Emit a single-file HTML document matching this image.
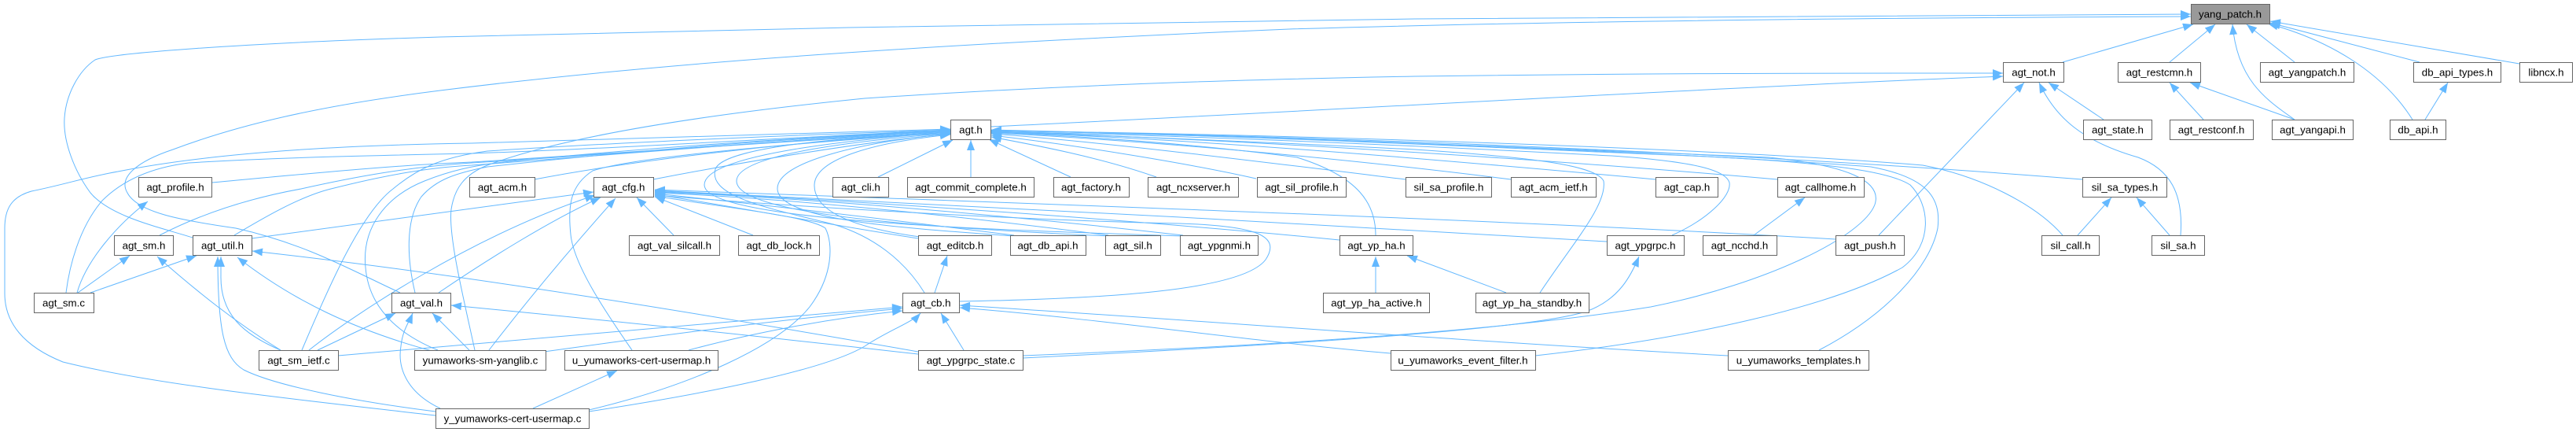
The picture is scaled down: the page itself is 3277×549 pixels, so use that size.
<!DOCTYPE html>
<html><head><meta charset="utf-8"><style>
html,body{margin:0;padding:0;background:#fff;}
svg{display:block;}
text{font-family:"Liberation Sans",Arial,sans-serif;font-size:13.33px;fill:#000;}
</style></head><body>
<svg width="3277" height="549" viewBox="0 0 3277 549" xmlns="http://www.w3.org/2000/svg">
<defs>
<marker id="a" markerUnits="userSpaceOnUse" markerWidth="14" markerHeight="11" refX="13" refY="5" orient="auto">
<path d="M0,0 L13,5 L0,10 z" fill="#63b8ff"/>
</marker>
</defs>
<rect width="3277" height="549" fill="#fff"/>
<g fill="none" stroke="#63b8ff" stroke-width="1" marker-end="url(#a)">
<!-- into yang_patch.h -->
<path d="M2624,79 L2790,31"/>
<path d="M2760,79 L2818,31"/>
<path d="M2919,152 C2880,125 2846,100 2840,31"/>
<path d="M2919,79 L2858,31"/>
<path d="M3069,152 C3030,90 2960,50 2885,30"/>
<path d="M3078,79 L2888,29"/>
<path d="M3205,81 L2888,27"/>
<path d="M245,302 C200,288 140,275 115,245 C95,218 80,180 82,150 C84,120 100,90 121,76 C140,68 300,55 560,47 C800,41 1000,37 1080,35 C1400,30 1640,26 1800,24 C2100,21 2400,19 2787,18"/>
<path d="M509,372 C450,345 390,310 300,290 C230,280 175,270 162,245 C150,225 175,205 220,190 C300,160 400,135 560,115 C800,85 1100,60 1640,37 C1900,29 2300,23 2787,21"/>
<!-- row1 -->
<path d="M2803,152 L2760,105"/>
<path d="M2919,152 L2786,105"/>
<path d="M3085,152 L3114,105"/>
<path d="M2676,152 L2606,105"/>
<path d="M2390,299 L2575,105"/>
<path d="M2774,299 C2778,245 2760,215 2720,200 C2650,180 2615,150 2594,105"/>
<path d="M1260,161 C1700,140 2200,110 2548,97"/>
<path d="M604,445 C590,380 570,300 574,266 C578,240 590,222 620,210 C700,180 850,150 1100,125 C1400,105 1640,100 1800,97 C2100,93 2300,93 2548,93"/>
<!-- into agt.h from bottom -->
<path d="M1117,225 L1212,178"/>
<path d="M1235,225 L1235,178"/>
<path d="M1362,225 L1258,177"/>
<!-- into agt.h from left -->
<path d="M680,228 C800,205 1000,180 1209,168"/>
<path d="M831,228 C950,205 1100,180 1209,170"/>
<path d="M270,232 C400,220 500,210 600,206 C800,195 1000,180 1209,167"/>
<path d="M203,299 C240,280 300,255 383,240 C450,225 520,212 600,207 C800,195 1000,178 1209,166"/>
<path d="M298,299 C330,280 380,250 421,240 C480,225 540,213 600,210 C800,195 1000,178 1209,166"/>
<path d="M84,372 C88,340 100,290 130,255 C160,225 200,212 240,207 C350,200 500,197 600,195 C800,188 1000,175 1209,165"/>
<path d="M384,445 C420,360 460,270 500,240 C530,215 560,200 620,192 C800,180 1000,172 1209,165"/>
<path d="M557,445 C520,430 470,400 465,340 C460,290 490,250 540,230 C570,218 600,210 650,205 C800,190 1000,175 1209,166"/>
<path d="M554,528 C400,510 200,490 80,460 C30,440 6,410 6,373 L6,290 C6,265 15,250 40,243 C80,235 110,225 150,218 C250,198 400,185 600,182 C800,178 1000,170 1209,164"/>
<path d="M528,372 C518,330 515,280 536,250 C555,228 580,220 620,212 C800,192 1000,175 1209,167"/>
<path d="M804,445 C780,410 730,340 726,298 C722,260 726,235 754,217 C790,205 900,190 1209,168"/>
<path d="M1176,372 C1150,330 1110,300 1060,285 C980,265 900,250 910,215 C920,185 1100,172 1209,170"/>
<path d="M1170,301 C1090,290 1035,270 1036,235 C1037,200 1120,180 1209,171"/>
<path d="M1290,300 C1150,290 990,280 989,240 C988,205 1100,180 1209,170"/>
<path d="M1410,300 C1200,290 937,275 937,230 C937,195 1100,178 1209,169"/>
<path d="M1505,300 C1250,292 896,280 896,235 C896,195 1100,176 1209,168"/>
<!-- fan into agt_cfg.h -->
<path d="M1168,303 C1050,285 950,265 833,247"/>
<path d="M1290,299 C1100,275 950,258 833,246"/>
<path d="M1410,299 C1200,272 1000,252 833,245"/>
<path d="M1505,299 C1250,270 1000,250 833,244"/>
<path d="M1704,305 C1400,275 1000,250 833,243"/>
<path d="M2044,307 C1700,285 1100,255 833,242"/>
<path d="M2335,304 C1900,278 1200,255 833,241"/>
<path d="M1220,383 C1400,380 1580,370 1610,330 C1630,300 1600,287 1500,284 C1300,280 1000,262 833,248"/>
<path d="M749,521 C880,490 990,440 1030,390 C1060,350 1060,310 1050,290 C1030,275 930,265 833,249"/>
<path d="M857,299 L810,251"/>
<path d="M958,299 L833,250"/>
<path d="M320,303 C450,285 600,265 755,244"/>
<path d="M393,445 C450,400 600,300 757,248"/>
<path d="M558,372 C620,330 700,280 764,251"/>
<path d="M622,445 C680,370 740,300 783,252"/>
<!-- left cluster -->
<path d="M98,372 C110,330 150,285 188,256"/>
<path d="M99,372 L165,325"/>
<path d="M115,372 L250,325"/>
<path d="M357,445 C300,410 250,370 200,326"/>
<path d="M357,445 C310,425 280,400 281,350 L281,326"/>
<path d="M554,523 C450,510 350,490 310,470 C285,455 277,420 277,326"/>
<path d="M557,448 C450,420 370,380 302,327"/>
<path d="M1168,447 C900,400 600,350 321,319"/>
<path d="M1168,450 C900,420 700,400 574,388"/>
<path d="M404,445 L503,398"/>
<path d="M597,445 L550,398"/>
<path d="M560,519 C520,500 505,470 510,440 C512,420 520,410 525,398"/>
<!-- into agt_cb.h -->
<path d="M430,452 C700,430 950,405 1148,390"/>
<path d="M692,447 C850,425 1000,405 1148,392"/>
<path d="M876,445 C950,425 1050,405 1148,395"/>
<path d="M749,523 C900,500 1050,470 1100,440 C1130,420 1160,410 1171,398"/>
<path d="M1226,445 L1197,398"/>
<path d="M678,519 L785,471"/>
<path d="M1189,372 L1205,325"/>
<path d="M2198,452 C1800,430 1500,405 1221,388"/>
<path d="M1769,449 C1600,435 1400,405 1221,391"/>
<!-- into agt.h from right -->
<path d="M1471,225 C1400,200 1320,185 1261,174"/>
<path d="M1598,227 C1500,205 1350,182 1261,172"/>
<path d="M1788,228 C1600,205 1400,180 1261,170"/>
<path d="M1922,228 C1700,200 1450,178 1261,169"/>
<path d="M2106,228 C1800,200 1500,175 1261,168"/>
<path d="M2261,228 C2000,205 1600,178 1261,167"/>
<path d="M2649,228 C2300,200 1800,175 1261,166"/>
<path d="M2624,299 C2590,260 2520,224 2446,210 C2200,190 1700,172 1261,166"/>
<path d="M1750,299 C1750,260 1730,225 1650,200 C1500,180 1350,172 1261,168"/>
<path d="M1959,372 C2000,310 2045,260 2040,230 C2030,210 1950,200 1800,190 C1600,180 1400,172 1261,168"/>
<path d="M2127,299 C2170,280 2203,250 2200,232 C2195,215 2150,205 2050,198 C1800,185 1500,172 1261,167"/>
<path d="M1301,452 C1600,440 1900,422 2100,390 C2250,360 2370,300 2385,260 C2395,230 2350,210 2250,200 C2000,190 1600,172 1261,166"/>
<path d="M1953,452 C2150,430 2330,390 2420,340 C2460,310 2455,260 2430,235 C2400,215 2300,205 2150,198 C1900,188 1600,172 1261,166"/>
<path d="M2314,445 C2400,400 2455,340 2465,290 C2470,250 2450,225 2380,212 C2200,198 1700,175 1261,165"/>
<path d="M1301,455 C1600,440 1950,420 2020,395 C2060,380 2075,350 2085,326"/>
<path d="M1750,372 L1750,326"/>
<path d="M1916,372 L1790,325"/>
<path d="M2231,299 L2296,251"/>
<path d="M2643,299 L2686,251"/>
<path d="M2760,299 L2718,251"/>
</g>
<g stroke="#666" stroke-width="1" fill="#fff">
<rect x="2787.5" y="5.5" width="100" height="25" fill="#999"/>
<rect x="2548.5" y="79.5" width="77" height="25"/>
<rect x="2694.5" y="79.5" width="105" height="25"/>
<rect x="2875.5" y="79.5" width="119" height="25"/>
<rect x="3070.5" y="79.5" width="111" height="25"/>
<rect x="3205.5" y="79.5" width="67" height="25"/>
<rect x="1209.5" y="152.5" width="51" height="25"/>
<rect x="2650.5" y="152.5" width="87" height="25"/>
<rect x="2760.5" y="152.5" width="106" height="25"/>
<rect x="2890.5" y="152.5" width="103" height="25"/>
<rect x="3040.5" y="152.5" width="71" height="25"/>
<rect x="176.5" y="225.5" width="93" height="25"/>
<rect x="597.5" y="225.5" width="83" height="25"/>
<rect x="755.5" y="225.5" width="76" height="25"/>
<rect x="1059.5" y="225.5" width="71" height="25"/>
<rect x="1154.5" y="225.5" width="161" height="25"/>
<rect x="1340.5" y="225.5" width="96" height="25"/>
<rect x="1460.5" y="225.5" width="115" height="25"/>
<rect x="1599.5" y="225.5" width="113" height="25"/>
<rect x="1788.5" y="225.5" width="109" height="25"/>
<rect x="1922.5" y="225.5" width="108" height="25"/>
<rect x="2106.5" y="225.5" width="79" height="25"/>
<rect x="2261.5" y="225.5" width="110" height="25"/>
<rect x="2649.5" y="225.5" width="107" height="25"/>
<rect x="145.5" y="299.5" width="75" height="25"/>
<rect x="245.5" y="299.5" width="75" height="25"/>
<rect x="800.5" y="299.5" width="115" height="25"/>
<rect x="939.5" y="299.5" width="103" height="25"/>
<rect x="1168.5" y="299.5" width="93" height="25"/>
<rect x="1285.5" y="299.5" width="96" height="25"/>
<rect x="1406.5" y="299.5" width="70" height="25"/>
<rect x="1501.5" y="299.5" width="99" height="25"/>
<rect x="1704.5" y="299.5" width="93" height="25"/>
<rect x="2044.5" y="299.5" width="98" height="25"/>
<rect x="2166.5" y="299.5" width="94" height="25"/>
<rect x="2335.5" y="299.5" width="87" height="25"/>
<rect x="2597.5" y="299.5" width="73" height="25"/>
<rect x="2737.5" y="299.5" width="67" height="25"/>
<rect x="43.5" y="372.5" width="76" height="25"/>
<rect x="498.5" y="372.5" width="75" height="25"/>
<rect x="1148.5" y="372.5" width="72" height="25"/>
<rect x="1683.5" y="372.5" width="135" height="25"/>
<rect x="1877.5" y="372.5" width="144" height="25"/>
<rect x="329.5" y="445.5" width="101" height="25"/>
<rect x="527.5" y="445.5" width="167" height="25"/>
<rect x="718.5" y="445.5" width="195" height="25"/>
<rect x="1168.5" y="445.5" width="133" height="25"/>
<rect x="1769.5" y="445.5" width="184" height="25"/>
<rect x="2198.5" y="445.5" width="179" height="25"/>
<rect x="554.5" y="519.5" width="195" height="25"/>
</g>
<g text-anchor="middle">
<text x="2837" y="22.5">yang_patch.h</text>
<text x="2587" y="96.5">agt_not.h</text>
<text x="2747" y="96.5">agt_restcmn.h</text>
<text x="2935" y="96.5">agt_yangpatch.h</text>
<text x="3126" y="96.5">db_api_types.h</text>
<text x="3239" y="96.5">libncx.h</text>
<text x="1235" y="169.5">agt.h</text>
<text x="2694" y="169.5">agt_state.h</text>
<text x="2813" y="169.5">agt_restconf.h</text>
<text x="2942" y="169.5">agt_yangapi.h</text>
<text x="3076" y="169.5">db_api.h</text>
<text x="223" y="242.5">agt_profile.h</text>
<text x="639" y="242.5">agt_acm.h</text>
<text x="793" y="242.5">agt_cfg.h</text>
<text x="1095" y="242.5">agt_cli.h</text>
<text x="1235" y="242.5">agt_commit_complete.h</text>
<text x="1388" y="242.5">agt_factory.h</text>
<text x="1518" y="242.5">agt_ncxserver.h</text>
<text x="1656" y="242.5">agt_sil_profile.h</text>
<text x="1843" y="242.5">sil_sa_profile.h</text>
<text x="1976" y="242.5">agt_acm_ietf.h</text>
<text x="2146" y="242.5">agt_cap.h</text>
<text x="2316" y="242.5">agt_callhome.h</text>
<text x="2703" y="242.5">sil_sa_types.h</text>
<text x="183" y="316.5">agt_sm.h</text>
<text x="283" y="316.5">agt_util.h</text>
<text x="858" y="316.5">agt_val_silcall.h</text>
<text x="991" y="316.5">agt_db_lock.h</text>
<text x="1215" y="316.5">agt_editcb.h</text>
<text x="1333" y="316.5">agt_db_api.h</text>
<text x="1441" y="316.5">agt_sil.h</text>
<text x="1551" y="316.5">agt_ypgnmi.h</text>
<text x="1751" y="316.5">agt_yp_ha.h</text>
<text x="2093" y="316.5">agt_ypgrpc.h</text>
<text x="2213" y="316.5">agt_ncchd.h</text>
<text x="2379" y="316.5">agt_push.h</text>
<text x="2634" y="316.5">sil_call.h</text>
<text x="2771" y="316.5">sil_sa.h</text>
<text x="81" y="389.5">agt_sm.c</text>
<text x="536" y="389.5">agt_val.h</text>
<text x="1184" y="389.5">agt_cb.h</text>
<text x="1751" y="389.5">agt_yp_ha_active.h</text>
<text x="1949" y="389.5">agt_yp_ha_standby.h</text>
<text x="380" y="462.5">agt_sm_ietf.c</text>
<text x="611" y="462.5">yumaworks-sm-yanglib.c</text>
<text x="816" y="462.5">u_yumaworks-cert-usermap.h</text>
<text x="1235" y="462.5">agt_ypgrpc_state.c</text>
<text x="1861" y="462.5">u_yumaworks_event_filter.h</text>
<text x="2288" y="462.5">u_yumaworks_templates.h</text>
<text x="652" y="536.5">y_yumaworks-cert-usermap.c</text>
</g>
</svg>
</body></html>
